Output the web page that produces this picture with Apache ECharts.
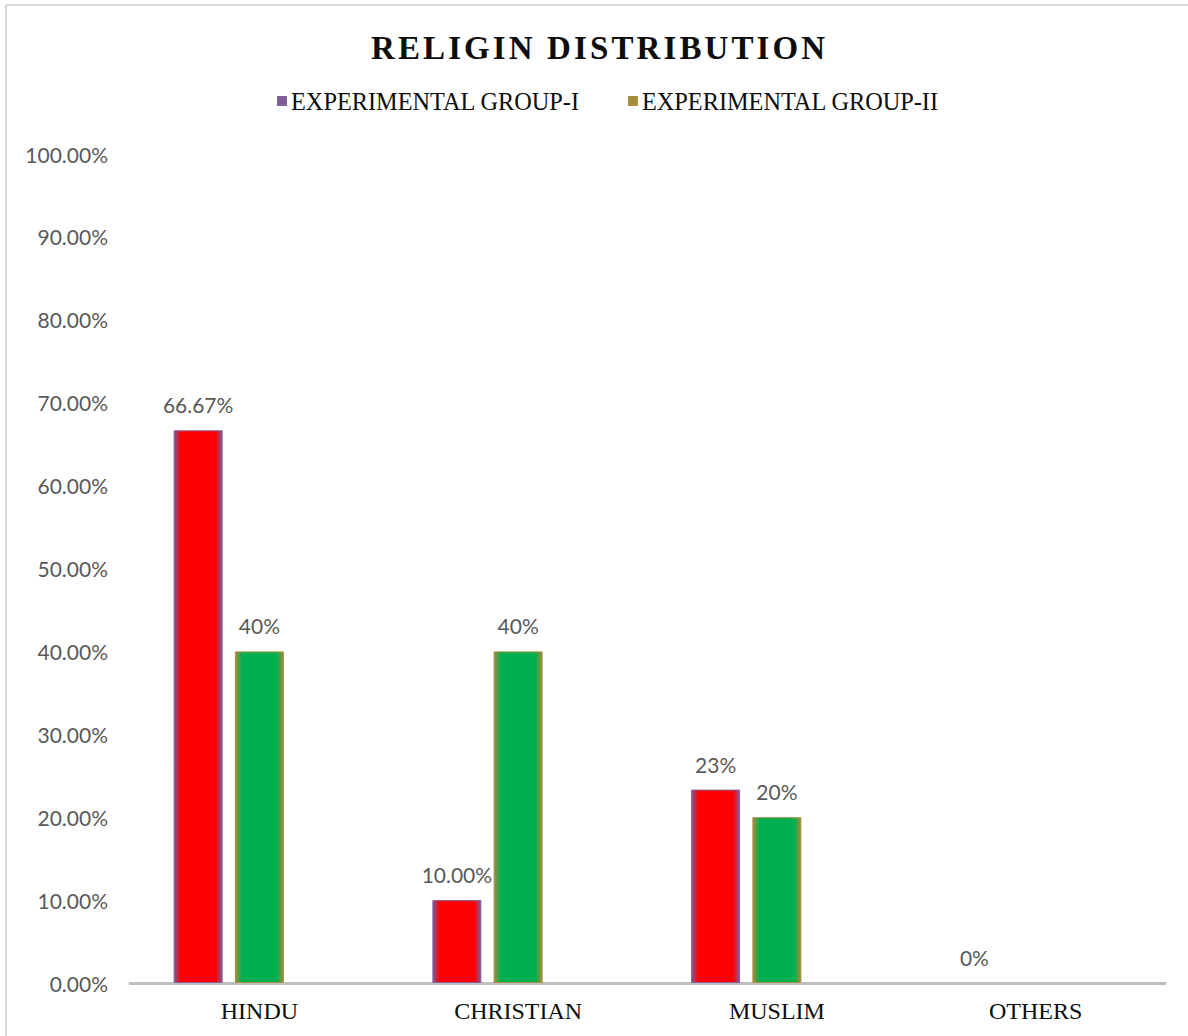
<!DOCTYPE html>
<html>
<head>
<meta charset="utf-8">
<script src="https://cdn.jsdelivr.net/npm/echarts@6/dist/echarts.min.js"></script>
<style>
html,body{margin:0;padding:0;background:#fff;overflow:hidden;}
#chart{width:1188px;height:1036px;}
</style>
</head>
<body>
<div id="chart"></div>
<script>
const categories = ['HINDU', 'CHRISTIAN', 'MUSLIM', 'OTHERS'];
const seriesNames = ['EXPERIMENTAL GROUP-I', 'EXPERIMENTAL GROUP-II'];
const groupI = [66.67, 10.00, 23.33, 0];
const groupII = [40, 40, 20, null];
const labelsI = ['66.67%', '10.00%', '23%', '0%'];
const labelsII = ['40%', '40%', '20%', ''];
const yTicks = [0, 10, 20, 30, 40, 50, 60, 70, 80, 90, 100];

const chart = echarts.init(document.getElementById('chart'), null, {renderer: 'svg'});

function edgeGradient(edge, fill) {
  return {
    type: 'linear', x: 0, y: 0, x2: 1, y2: 0,
    colorStops: [
      {offset: 0, color: edge},
      {offset: 0.14, color: fill},
      {offset: 0.86, color: fill},
      {offset: 1, color: edge}
    ]
  };
}

function hideZero(arr) {
  return arr.map(v => (v === 0 ? {value: v, itemStyle: {borderWidth: 0}} : v));
}

const labelFont = {fontFamily: 'Lato', fontSize: 21, color: '#595959'};

const option = {
  animation: false,
  backgroundColor: '#ffffff',
  title: {
    text: 'RELIGIN DISTRIBUTION',
    left: 366,
    top: 26,
    textAlign: 'left',
    textStyle: {fontFamily: 'Liberation Serif', fontWeight: 'bold', fontSize: 33, color: '#0d0d0d'}
  },
  legend: {
    data: [
      {name: seriesNames[0], itemStyle: {color: '#7f5a98'}},
      {name: seriesNames[1], itemStyle: {color: '#a48a3a'}}
    ],
    left: 272,
    top: 84,
    icon: 'rect',
    itemWidth: 8,
    itemHeight: 8,
    itemGap: 48,
    textStyle: {fontFamily: 'Liberation Serif', fontSize: 24.3, color: '#0d0d0d'}
  },
  graphic: [
    {type: 'line', shape: {x1: 6, y1: 5, x2: 1188, y2: 5},
      style: {stroke: '#d9d9d9', lineWidth: 2}, silent: true},
    {type: 'line', shape: {x1: 6, y1: 5, x2: 6, y2: 1036},
      style: {stroke: '#d9d9d9', lineWidth: 2}, silent: true}
  ],
  grid: {left: 130, right: 23, top: 154, bottom: 53, containLabel: false, outerBoundsMode: 'none'},
  xAxis: {
    type: 'category',
    data: categories,
    axisLine: {lineStyle: {color: '#bfbfbf', width: 3}},
    axisTick: {show: false},
    axisLabel: {margin: 16, fontFamily: 'Liberation Serif', fontSize: 24, color: '#0d0d0d'}
  },
  yAxis: {
    type: 'value',
    min: yTicks[0],
    max: yTicks[yTicks.length - 1],
    interval: yTicks[1] - yTicks[0],
    axisLine: {show: false},
    axisTick: {show: false},
    splitLine: {show: false},
    axisLabel: Object.assign({margin: 22, formatter: v => v.toFixed(2) + '%'}, labelFont)
  },
  series: [
    {
      name: seriesNames[0],
      type: 'bar',
      data: hideZero(groupI),
      barWidth: 49,
      barGap: '25%',
      itemStyle: {color: edgeGradient('#7f5a98', '#ff0000'), borderColor: '#84609c', borderWidth: 1},
      label: Object.assign({show: true, position: 'top', distance: 15,
        formatter: p => labelsI[p.dataIndex]}, labelFont)
    },
    {
      name: seriesNames[1],
      type: 'bar',
      data: hideZero(groupII),
      barWidth: 49,
      barGap: '25%',
      itemStyle: {color: edgeGradient('#a48a3a', '#00b050'), borderColor: '#a8903e', borderWidth: 1},
      label: Object.assign({show: true, position: 'top', distance: 15,
        formatter: p => labelsII[p.dataIndex]}, labelFont)
    },
    {
      name: 'blank',
      type: 'bar',
      data: [null, null, null, null],
      barWidth: 49,
      barGap: '25%'
    }
  ]
};

chart.setOption(option);

function spaceTitle() {
  const texts = document.querySelectorAll('#chart svg text');
  texts.forEach(t => {
    if (t.textContent === 'RELIGIN DISTRIBUTION') {
      t.setAttribute('letter-spacing', '3.1px');
      t.style.letterSpacing = '3.1px';
    }
  });
}
spaceTitle();
chart.on('finished', spaceTitle);
</script>
</body>
</html>
